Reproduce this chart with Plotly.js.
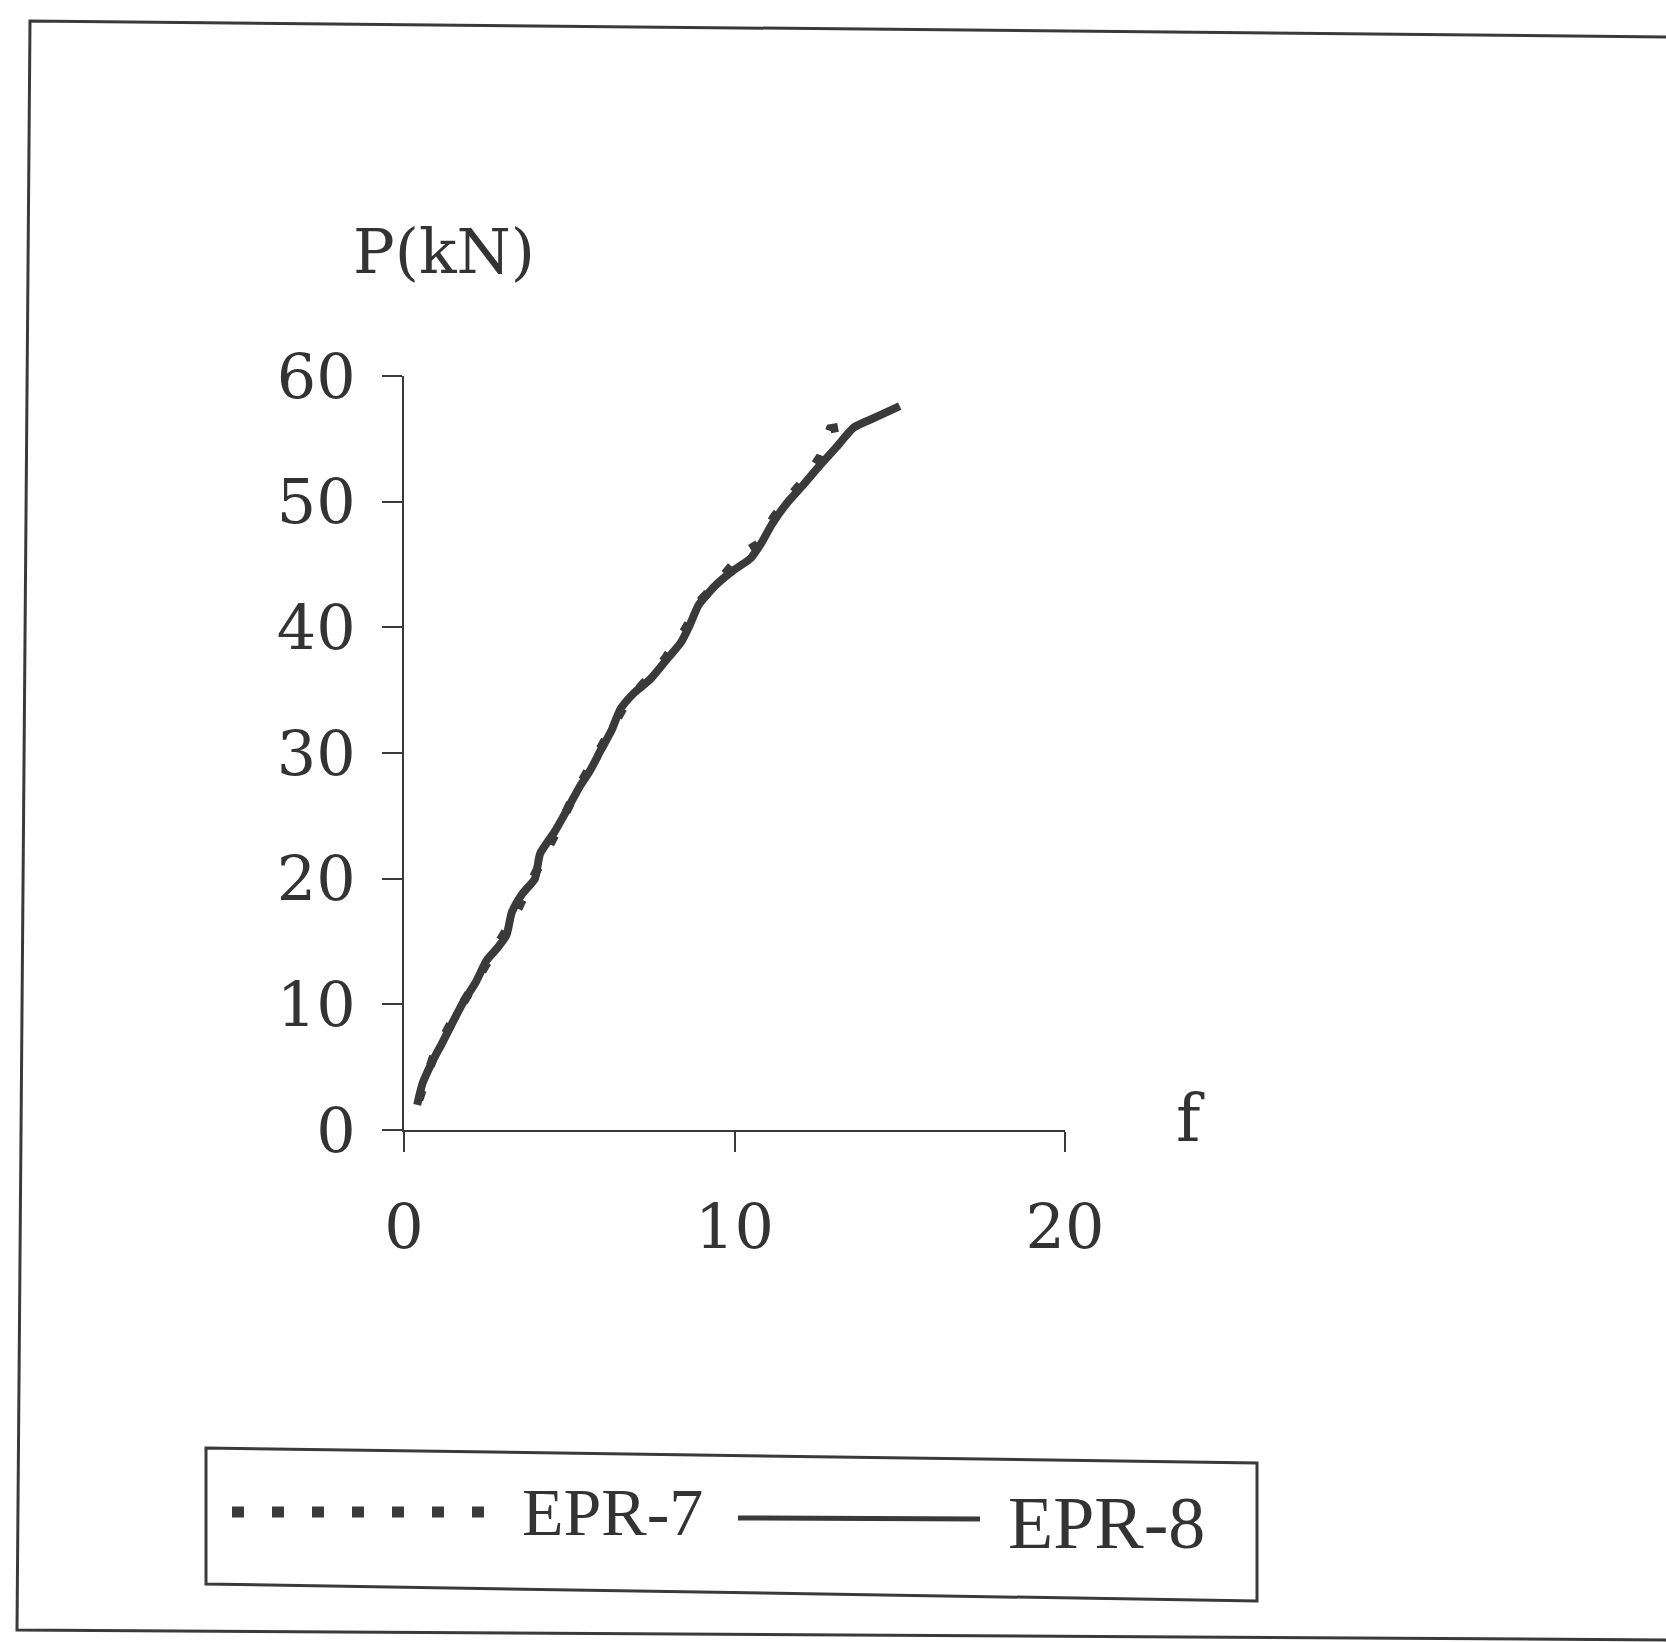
<!DOCTYPE html>
<html>
<head>
<meta charset="utf-8">
<script src="https://cdn.plot.ly/plotly-3.0.1.min.js"></script>
<style>
  html, body { margin: 0; padding: 0; background: #ffffff; }
  #chart { width: 1666px; height: 1642px; }
</style>
</head>
<body>
<div id="chart"></div>
<script>
// Load–deflection readings, f versus P(kN)
const f_EPR8 = [0.40, 0.56, 0.83, 1.15, 1.48, 1.80, 2.18, 2.50, 2.83, 3.10, 3.26, 3.58, 3.96, 4.12,
                4.55, 4.98, 5.31, 5.63, 5.95, 6.28, 6.55, 6.93, 7.46, 8.00, 8.38, 8.65, 8.92, 9.41,
                9.95, 10.49, 10.81, 11.13, 11.56, 12.10, 12.59, 13.07, 13.61, 14.26, 15.00];
const P_EPR8 = [2.0, 3.7, 5.3, 6.9, 8.6, 10.2, 11.8, 13.5, 14.5, 15.5, 17.3, 18.8, 20.0, 22.0,
                23.7, 25.7, 27.3, 28.6, 30.2, 31.8, 33.5, 34.7, 35.9, 37.6, 38.8, 40.2, 41.8, 43.3,
                44.5, 45.5, 46.7, 48.2, 49.8, 51.4, 52.9, 54.3, 55.9, 56.7, 57.6];

const f_EPR7 = [0.45, 0.9, 1.4, 1.9, 2.4, 2.9, 3.3, 3.7, 4.2, 4.7, 5.2, 5.7, 6.2, 6.7,
                7.3, 7.9, 8.5, 9.0, 9.6, 10.2, 10.7, 11.2, 11.7, 12.2, 12.6, 12.9, 13.3, 13.7];
const P_EPR7 = [2.4, 5.9, 8.4, 10.6, 12.6, 14.8, 16.8, 19.0, 21.5, 24.2, 26.9, 29.3, 31.6, 33.9,
                35.7, 37.5, 39.8, 42.2, 43.9, 45.8, 46.6, 48.8, 50.5, 52.0, 53.6, 55.8, 56.0, 56.6];

const xTicks = [0, 10, 20];
const yTicks = [0, 10, 20, 30, 40, 50, 60];
const seriesNames = ["EPR-7", "EPR-8"];
const xTitle = "f";
const yTitle = "P(kN)";

// page geometry
const W = 1666, H = 1642;
const L = 404, R = 1065, T = 376, B = 1130;
const px = x => (x - L) / (R - L);
const py = y => (B - y) / (B - T);

const ink = "#3a3a3a";
const serifWide = "DejaVu Serif, Liberation Serif, serif";
const serif = "Liberation Serif, Times New Roman, serif";

const traces = [
  {
    x: f_EPR8, y: P_EPR8, name: seriesNames[1], type: "scatter", mode: "lines",
    line: { color: ink, width: 8, shape: "spline", smoothing: 0.6 }, showlegend: false
  },
  {
    x: f_EPR7, y: P_EPR7, name: seriesNames[0], type: "scatter", mode: "lines",
    line: { color: ink, width: 9, dash: "10px,26px" }, showlegend: false
  }
];

const axisCommon = {
  showgrid: false, zeroline: false, showline: true, linecolor: ink, linewidth: 2,
  ticks: "outside", ticklen: 20, tickwidth: 2, tickcolor: ink,
  tickfont: { family: serifWide, size: 62, color: "#333" }, fixedrange: true
};

const layout = {
  width: W, height: H,
  margin: { l: L, r: W - R, t: T, b: H - B, pad: 0 },
  paper_bgcolor: "#ffffff", plot_bgcolor: "rgba(0,0,0,0)",
  showlegend: false,
  xaxis: Object.assign({}, axisCommon, {
    range: [0, 20], tickmode: "array", tickvals: xTicks, ticktext: xTicks.map(String),
    ticklabelstandoff: 22
  }),
  yaxis: Object.assign({}, axisCommon, {
    range: [0, 60], tickmode: "array", tickvals: yTicks, ticktext: yTicks.map(String),
    ticklabelstandoff: 14
  }),
  annotations: [
    { text: yTitle, xref: "paper", yref: "paper", x: px(444), y: py(252), showarrow: false,
      xanchor: "center", yanchor: "middle", font: { family: serifWide, size: 62, color: "#333" } },
    { text: xTitle, xref: "paper", yref: "paper", x: px(1190), y: py(1118), showarrow: false,
      xanchor: "center", yanchor: "middle", font: { family: serifWide, size: 66, color: "#333" } },
    { text: seriesNames[0], xref: "paper", yref: "paper", x: px(520), y: py(1512), showarrow: false,
      xanchor: "left", yanchor: "middle", font: { family: serif, size: 68, color: "#333" } },
    { text: seriesNames[1], xref: "paper", yref: "paper", x: px(1006), y: py(1523), showarrow: false,
      xanchor: "left", yanchor: "middle", font: { family: serif, size: 74, color: "#333" } }
  ],
  shapes: [
    // outer frame
    { type: "path", xref: "paper", yref: "paper",
      path: `M ${px(W + 10)},${py(37)} L ${px(30)},${py(21)} L ${px(17)},${py(1630)} L ${px(W + 10)},${py(1640)}`,
      line: { color: ink, width: 3 } },
    // legend box
    { type: "path", xref: "paper", yref: "paper",
      path: `M ${px(206)},${py(1448)} L ${px(1257)},${py(1463)} L ${px(1257)},${py(1601)} L ${px(206)},${py(1584)} Z`,
      line: { color: ink, width: 3 } },
    // legend samples
    { type: "line", xref: "paper", yref: "paper",
      x0: px(232), x1: px(492), y0: py(1512), y1: py(1512),
      line: { color: ink, width: 11, dash: "12px,28px" } },
    { type: "line", xref: "paper", yref: "paper",
      x0: px(738), x1: px(980), y0: py(1518), y1: py(1519),
      line: { color: ink, width: 5 } }
  ]
};

Plotly.newPlot("chart", traces, layout, { staticPlot: true, displayModeBar: false });
</script>
</body>
</html>
